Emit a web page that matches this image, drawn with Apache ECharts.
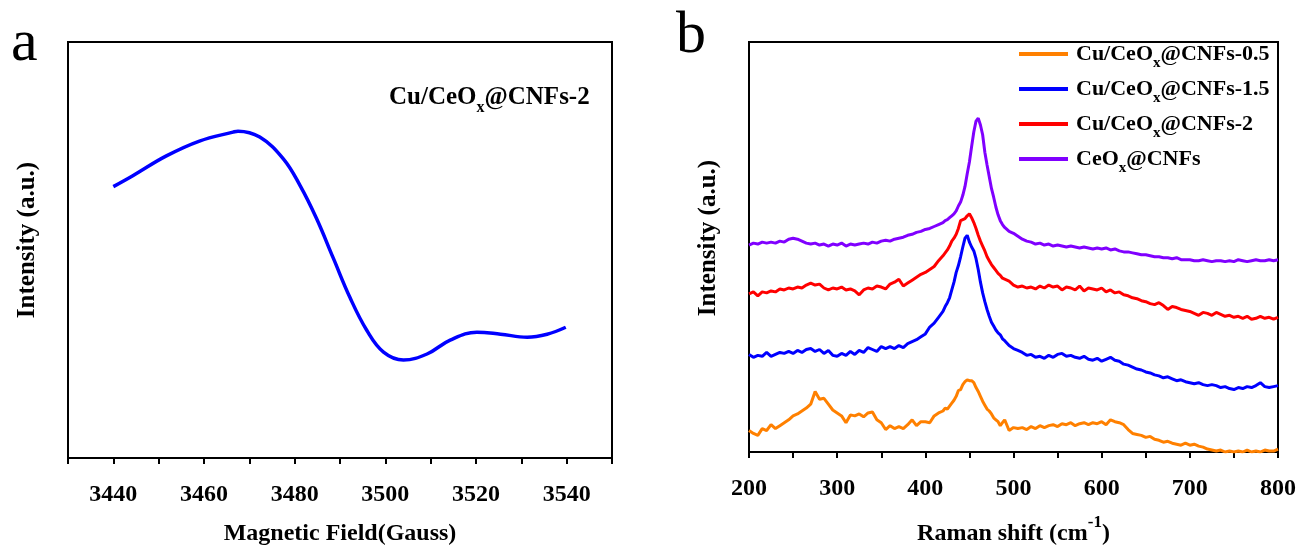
<!DOCTYPE html>
<html>
<head>
<meta charset="utf-8">
<script src="https://cdn.jsdelivr.net/npm/echarts@6/dist/echarts.min.js"></script>
<style>
html,body{margin:0;padding:0;background:#fff;width:1299px;height:551px;overflow:hidden;}
#c{width:1299px;height:551px;display:block;}
</style>
</head>
<body>
<div id="c"></div>
<script>
// ---- Panel a: EPR ----
const eprField = [3440, 3444.3, 3451.7, 3459, 3466.4, 3467.5, 3472.3, 3477.5, 3481.2, 3484.8, 3488.5, 3492.2, 3495.9, 3499.6, 3504, 3509.2, 3514.3, 3520.2, 3525.4, 3531.3, 3535.7, 3539.8];
const eprIntensity = [274, 285, 305, 320, 329, 330, 324, 302, 275, 242, 202, 162, 129, 107, 99, 105, 119, 127, 125, 122, 125, 132];
const eprTicks = [3440, 3460, 3480, 3500, 3520, 3540];

// ---- Panel b: Raman ----
const ramanShift = [
  200,205,210,215,220,225,230,235,240,245,250,255,260,265,270,275,280,285,290,295,300,305,310,315,320,325,330,335,340,345,350,355,360,365,370,375,380,385,390,395,400,405,410,415,420,
  422.5,425,427.5,430,432.5,435,437.5,440,442.5,445,447.5,450,452.5,455,457.5,460,462.5,465,467.5,470,472.5,475,477.5,480,482.5,485,487.5,490,
  495,500,505,510,515,520,525,530,535,540,545,550,555,560,565,570,575,580,585,590,595,600,605,610,615,620,625,630,635,640,645,650,655,660,665,670,675,680,685,690,695,700,705,710,715,720,725,730,735,740,745,750,755,760,765,770,775,780,785,790,795,800
];
const cu05 = [
  22,19,17,24,22,28,24,27,30,33, 37,39,42,45,49,62,54,55,49,43, 40,37,30,38,37,39,36,40,41,33, 30,23,27,24,26,24,28,33,27,31, 31,30,37,40,42,
  45,44,47,50,53,57,63,64,69,72,74,73,73,71,66,62,57,52,48,44,42,39,35,33,31,27,30,33,
  22,25,24,25,23,26,24,27,25,27, 28,26,29,28,30,27,29,30,28,30, 29,31,28,33,31,30,28,23,19,18, 17,15,16,13,12,10,11,9,8,7, 9,7,8,6,5,3,2,1,2,0, 1,0,1,0,2,0,1,0,2,1, 1,3
];
const cu15 = [
  100,97,99,98,102,98,100,102,101,103, 101,104,102,105,106,103,105,101,104,99, 98,101,99,103,100,104,102,107,105,103, 108,106,108,106,109,107,111,113,115,118, 121,128,132,138,144,
  149,153,158,166,174,184,191,200,210,219,222,215,210,206,198,187,174,163,154,146,139,133,129,125,122,120,116,114,
  109,106,104,102,99,100,97,98,96,99, 97,100,101,98,99,97,96,98,95,94, 96,93,95,97,94,93,90,89,87,85, 84,82,81,79,78,76,77,75,73,74, 72,71,70,71,69,68,69,68,66,67, 65,64,66,65,67,66,68,71,67,66, 67,68
];
const cu2 = [
  162,164,160,164,163,165,164,167,166,168, 167,169,168,171,173,171,172,168,166,168, 167,169,166,167,165,161,166,168,167,170, 169,167,172,174,177,170,173,176,179,182, 184,187,190,196,201,
  204,207,211,216,219,223,229,237,238,239,242,244,240,235,229,222,216,211,206,200,196,192,189,186,183,181,178,177,
  175,171,169,170,168,169,167,170,168,171, 169,170,166,169,168,166,170,165,168,167, 166,168,164,166,163,164,161,160,158,157, 155,154,152,151,153,150,146,149,148,146, 145,144,142,140,143,142,140,143,141,139, 140,138,139,137,139,136,137,139,137,138, 136,138
];
const ceo = [
  212,214,213,215,214,215,214,216,215,218, 219,218,216,214,213,214,212,213,211,213, 212,214,211,213,212,213,214,213,215,214, 216,217,216,218,219,220,222,223,225,226, 228,229,231,233,235,
  237,238,240,242,244,247,252,256,263,272,285,297,313,328,339,342,335,325,307,294,282,270,261,251,243,237,233,230,
  226,224,221,218,216,215,213,214,212,213, 211,212,211,210,211,210,209,210,209,208, 209,208,209,207,208,206,205,205,204,203, 202,202,201,200,200,199,199,198,199,197, 197,197,196,196,197,196,195,196,196,195, 196,195,197,196,195,196,197,196,196,197, 196,197
];
const ramanTicks = [200, 300, 400, 500, 600, 700, 800];
const seriesNames = ['Cu/CeOx@CNFs-0.5', 'Cu/CeOx@CNFs-1.5', 'Cu/CeOx@CNFs-2', 'CeOx@CNFs'];
const seriesColors = ['#FF8000', '#0000FF', '#FF0000', '#8000FF'];
const ramanSeries = [cu05, cu15, cu2, ceo];

const FONT = '"Liberation Serif", "Times New Roman", serif';

function pairs(xs, ys) { return xs.map((x, i) => [x, ys[i]]); }
function richName(n) {
  const i = n.indexOf('Ox');
  return '{m|' + n.slice(0, i + 1) + '}{s|x}{m|' + n.slice(i + 2) + '}';
}

const chart = echarts.init(document.getElementById('c'), null, {renderer: 'canvas', width: 1299, height: 551});

const axisLabelStyle = {color: '#000', fontFamily: FONT, fontWeight: 'bold', fontSize: 24, margin: 25};
const nameStyle = {color: '#000', fontFamily: FONT, fontWeight: 'bold', fontSize: 24};

const option = {
  animation: false,
  backgroundColor: '#fff',
  grid: [
    {left: 68, top: 42, width: 544, height: 424, show: true, borderColor: '#000', borderWidth: 2, containLabel: false},
    {left: 749, top: 42, width: 533, height: 424, show: true, borderColor: '#000', borderWidth: 2, containLabel: false}
  ],
  xAxis: [
    {
      type: 'value', gridIndex: 0, min: 3430, max: 3550, interval: 10,
      axisLine: {lineStyle: {color: '#000', width: 2}},
      axisTick: {show: true, inside: false, length: 6, lineStyle: {color: '#000', width: 2}},
      splitLine: {show: false},
      axisLabel: Object.assign({}, axisLabelStyle, {
        formatter: v => (eprTicks.indexOf(v) >= 0 ? String(v) : '')
      }),
      name: 'Magnetic Field(Gauss)', nameLocation: 'middle', nameGap: 64,
      nameTextStyle: nameStyle
    },
    {
      type: 'value', gridIndex: 1, min: 200, max: 800, interval: 50,
      axisLine: {lineStyle: {color: '#000', width: 2}},
      axisTick: {show: true, inside: false, length: 6, lineStyle: {color: '#000', width: 2}},
      splitLine: {show: false},
      axisLabel: Object.assign({}, axisLabelStyle, {
        formatter: v => (ramanTicks.indexOf(v) >= 0 ? String(v) : '')
      }),
      name: '{n|Raman shift (cm}{sup|-1}{n|)}', nameLocation: 'middle', nameGap: 62,
      nameTextStyle: {
        rich: {
          n: {color: '#000', fontFamily: FONT, fontWeight: 'bold', fontSize: 24, lineHeight: 32, verticalAlign: 'bottom'},
          sup: {color: '#000', fontFamily: FONT, fontWeight: 'bold', fontSize: 17, lineHeight: 32, verticalAlign: 'top'}
        }
      }
    }
  ],
  yAxis: [
    {
      type: 'value', gridIndex: 0, min: 0, max: 420,
      axisLine: {show: true, lineStyle: {color: '#000', width: 2}},
      axisTick: {show: false}, axisLabel: {show: false}, splitLine: {show: false}
    },
    {
      type: 'value', gridIndex: 1, min: 0, max: 420,
      axisLine: {show: true, lineStyle: {color: '#000', width: 2}},
      axisTick: {show: false}, axisLabel: {show: false}, splitLine: {show: false}
    }
  ],
  legend: {
    data: seriesNames,
    orient: 'vertical',
    left: 1019, top: 43, padding: 0,
    icon: 'rect', itemWidth: 49, itemHeight: 4, itemGap: 7,
    formatter: n => richName(n),
    textStyle: {
      padding: [0, 0, 0, 3],
      rich: {
        m: {color: '#000', fontFamily: FONT, fontWeight: 'bold', fontSize: 22, lineHeight: 34, verticalAlign: 'middle'},
        s: {color: '#000', fontFamily: FONT, fontWeight: 'bold', fontSize: 15, lineHeight: 34, verticalAlign: 'bottom'}
      }
    }
  },
  graphic: [
    {type: 'text', left: 11, top: 14, style: {text: 'a', font: '60px ' + FONT, fill: '#000'}},
    {type: 'text', left: 676, top: 6, style: {text: 'b', font: '60px ' + FONT, fill: '#000'}},
    {type: 'text', x: 28, y: 240, rotation: Math.PI / 2, style: {
      text: 'Intensity (a.u.)', font: 'bold 25px ' + FONT, fill: '#000', align: 'center', verticalAlign: 'middle'}},
    {type: 'text', x: 709, y: 238, rotation: Math.PI / 2, style: {
      text: 'Intensity (a.u.)', font: 'bold 25px ' + FONT, fill: '#000', align: 'center', verticalAlign: 'middle'}},
    {type: 'text', left: 389, top: 85, style: {
      text: '{m|Cu/CeO}{s|x}{m|@CNFs-2}',
      rich: {
        m: {fill: '#000', fontFamily: FONT, fontWeight: 'bold', fontSize: 25, lineHeight: 36, verticalAlign: 'middle'},
        s: {fill: '#000', fontFamily: FONT, fontWeight: 'bold', fontSize: 16, lineHeight: 36, verticalAlign: 'bottom'}
      }
    }}
  ],
  series: [
    {
      type: 'line', xAxisIndex: 0, yAxisIndex: 0, data: pairs(eprField, eprIntensity),
      smooth: 0.4, showSymbol: false, lineStyle: {color: '#0000FF', width: 3.5}, itemStyle: {color: '#0000FF'}
    }
  ].concat(ramanSeries.map((ys, i) => ({
    name: seriesNames[i], type: 'line', xAxisIndex: 1, yAxisIndex: 1,
    data: pairs(ramanShift, ys), showSymbol: false, smooth: false,
    lineStyle: {color: seriesColors[i], width: 3}, itemStyle: {color: seriesColors[i]}
  })))
};
chart.setOption(option);
</script>
</body>
</html>
